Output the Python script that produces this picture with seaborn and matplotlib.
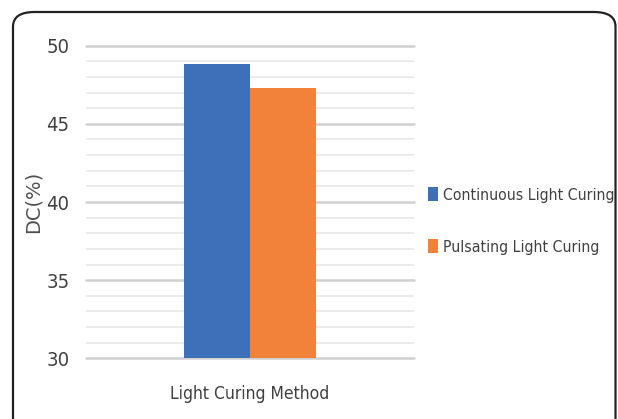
import matplotlib
matplotlib.use("Agg")
import matplotlib.pyplot as plt
from matplotlib.patches import FancyBboxPatch
from matplotlib.ticker import MultipleLocator
import seaborn as sns
import pandas as pd

categories = ["Light Curing Method"]
series = ["Continuous Light Curing", "Pulsating Light Curing"]
values = [48.8, 47.3]
colors = ["#3d70b8", "#f2813a"]

df = pd.DataFrame({"method": categories * len(series), "series": series, "dc": values})

sns.set_theme(style="white")
plt.rcParams["font.family"] = ["DejaVu Sans"]
plt.rcParams["font.stretch"] = "condensed"

W, H = 618, 419
fig = plt.figure(figsize=(W / 100, H / 100), dpi=100)
ax = fig.add_axes([86 / W, 1 - 358.3 / H, 328 / W, 312.6 / H])

sns.barplot(data=df, x="method", y="dc", hue="series", palette=colors,
            width=0.4, saturation=1, ax=ax, legend=True, zorder=3)

ax.set_ylim(30, 50)
ax.set_xlim(-0.5, 0.5)
ax.yaxis.set_major_locator(MultipleLocator(5))
ax.yaxis.set_minor_locator(MultipleLocator(1))
ax.grid(which="major", axis="y", color="#d0d0d0", linewidth=1.8, zorder=0)
ax.grid(which="minor", axis="y", color="#ebebeb", linewidth=1.4, zorder=0)
for gl in ax.yaxis.get_gridlines():
    gl.set_clip_on(False)
ax.set_axisbelow(True)
for s in ax.spines.values():
    s.set_visible(False)
ax.tick_params(axis="y", which="both", length=0, pad=12, labelsize=14.5, labelcolor="#404040")
ax.tick_params(axis="x", length=0, labelsize=12.5, labelcolor="#404040", pad=19)
ax.set_xticks([0])
ax.set_xticklabels(categories)
ax.set_xlabel("")
ax.set_ylabel("DC(%)", fontsize=14, color="#505050", stretch="normal")
ax.yaxis.set_label_coords((43 - 86) / 328, 0.5)
for p in ax.patches:
    p.set_edgecolor("none")

leg = ax.legend(loc="center left", bbox_to_anchor=(428 / W, 1 - 221 / H),
                bbox_transform=fig.transFigure, frameon=False, borderpad=0,
                borderaxespad=0, fontsize=11.3, handlelength=0.65, handleheight=1.0,
                handletextpad=0.3, labelspacing=2.35, labelcolor="#404040")

frame = FancyBboxPatch((13 / W, -0.05), 602.5 / W, 1 - 12 / H + 0.05,
                       boxstyle="round,pad=0,rounding_size=0.035",
                       transform=fig.transFigure, facecolor="none",
                       edgecolor="#222222", linewidth=1.6, clip_on=False)
fig.patches.append(frame)

fig.savefig("out.png", dpi=100)
